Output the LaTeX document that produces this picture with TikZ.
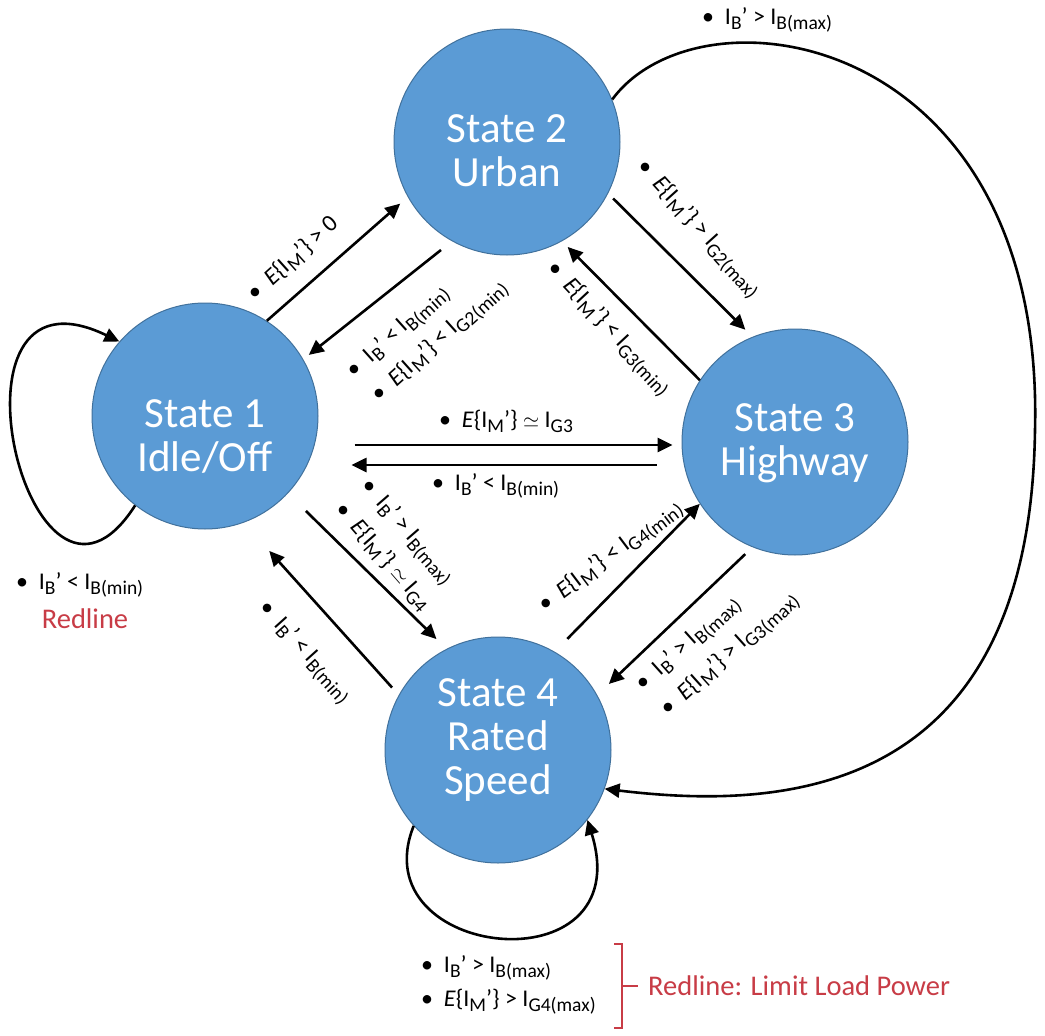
\documentclass[tikz,border=0pt]{standalone}
\usepackage{fontspec}
\setmainfont{Carlito}
\usetikzlibrary{arrows.meta}
\definecolor{stfill}{HTML}{5B9BD5}
\definecolor{stline}{HTML}{41719C}
\definecolor{redl}{RGB}{200,60,70}
\newcommand\sbs[1]{\raisebox{-0.2em}{\fontsize{19.5}{20}\selectfont #1}}
\newcommand\bul{\textbullet\hspace{0.45em}}
\newcommand\EIM{\textit{E}\{I\sbs{M}’\}}
\newcommand\IBp{I\sbs{B}’}
\newcommand\simeqs{{\fontsize{21}{21}\selectfont$\simeq$}}
\begin{document}
\begin{tikzpicture}[x=1pt,y=-1pt,
  state/.style={circle, fill=stfill, draw=stline, line width=1pt, minimum size=226pt,
    inner sep=0pt},
  stext/.style={text=white, font=\fontsize{43}{44}\selectfont, align=center, inner sep=0pt},
  arr/.style={-{Triangle[length=15pt,width=14pt]}, line width=2.6pt},
  lab/.style={font=\fontsize{24}{28}\selectfont, inner sep=0pt, anchor=west},
  redtxt/.style={font=\fontsize{28.5}{32}\selectfont, text=redl, inner sep=0pt}]
\useasboundingbox (0,0) rectangle (1045,1036);
\fill[white] (0,0) rectangle (1045,1036);

% states
\node[state] (s1) at (205,416) {};
\node[state] (s2) at (507,142) {};
\node[state] (s3) at (795,442) {};
\node[state] (s4) at (498,750) {};
\node[stext] (t1) at (205,436) {State 1\\Idle/Off};
\node[stext] (t2) at (507,151) {State 2\\Urban};
\node[stext] (t3) at (795,443) {State 3\\Highway};
\node[stext] (t4) at (498,740) {State 4\\Rated\\Speed};

% connectors
\draw[arr,shorten >=10pt] (s1.57) -- (s2.209);
\draw[arr,shorten <=14pt,shorten >=7pt] (s2.241) -- (s1.30);
\draw[arr,shorten <=7pt,shorten >=10pt] (s2.333) -- (s3.112);
\draw[arr,shorten >=8pt] (s3.147) -- (s2.299);
\draw[arr] ([xshift=36pt,yshift=-29pt]s1.east) -- ([xshift=-9pt,yshift=-3pt]s3.west);
\draw[arr] ([xshift=-25pt,yshift=-23pt]s3.west) -- ([xshift=33pt,yshift=-49pt]s1.east);
\draw[arr,shorten <=25pt,shorten >=14pt] (s1.317) -- (s4.117);
\draw[arr,shorten <=10pt,shorten >=38pt] (s4.151) -- (s1.290);
\draw[arr,shorten <=18pt] (s4.60) -- (s3.213);
\draw[arr,shorten <=10pt,shorten >=16pt] (s3.248) -- (s4.29);
% long arc State 2 -> State 4
\draw[arr] (s2.22) .. controls (700,-20) and (1045,30) .. (1035,430)
  .. controls (1030,800) and (780,810) .. (s4.340);
% self loops
\draw[arr] (s1.232) .. controls (30,670) and (-70,250) .. (s1.139);
\draw[arr] (s4.222) .. controls (360,960) and (640,990) .. (s4.322);

% labels
\node[lab,rotate=42] (l12) at (251,297) {\bul\EIM\ > 0};
\node[lab,rotate=42] (l21a) at (351,375) {\bul\IBp\ < I\sbs{B(min)}};
\node[lab,rotate=42] (l21b) at (376,399) {\bul\EIM\ < I\sbs{G2(min)}};
\node[lab,rotate=-48] (l23) at (640,164) {\bul\EIM\ > I\sbs{G2(max)}};
\node[lab,rotate=-47] (l32) at (550,266) {\bul\EIM\ < I\sbs{G3(min)}};
\node[lab] (l13) at (439,421) {\bul\EIM\ \simeqs\ I\sbs{G3}};
\node[lab] (l31) at (432,486) {\bul\IBp\ < I\sbs{B(min)}};
\node[lab,rotate=-49] (l14a) at (364,483) {\bul\IBp\ > I\sbs{B(max)}};
\node[lab,rotate=-49] (l14b) at (339,506) {\bul\EIM\ \simeqs\ I\sbs{G4}};
\node[lab,rotate=-48] (l41) at (262,605) {\bul\IBp\ < I\sbs{B(min)}};
\node[lab,rotate=37] (l43) at (542,609) {\bul\EIM\ < I\sbs{G4(min)}};
\node[lab,rotate=42] (l34a) at (640,688) {\bul\IBp\ > I\sbs{B(max)}};
\node[lab,rotate=42] (l34b) at (665,713) {\bul\EIM\ > I\sbs{G3(max)}};
\node[lab] (ltop) at (702,20) {\bul\IBp\ > I\sbs{B(max)}};
\node[lab] (lleft) at (16,585) {\bul\IBp\ < I\sbs{B(min)}};
\node[redtxt] (rleft) at (85,619) {Redline};
\node[lab] (lb1) at (421,968) {\bul\IBp\ > I\sbs{B(max)}};
\node[lab] (lb2) at (421,1002) {\bul\EIM\ > I\sbs{G4(max)}};
% bracket
\draw[redl, line width=1.6pt] (614,944) -- (622,944) -- (622,1028) -- (614,1028);
\draw[redl, line width=1.6pt] (622,986) coordinate (bt) -- (638,986);
\node[redtxt, anchor=west] (rbot) at (648,986) {Redline: Limit Load Power};
\end{tikzpicture}
\end{document}
